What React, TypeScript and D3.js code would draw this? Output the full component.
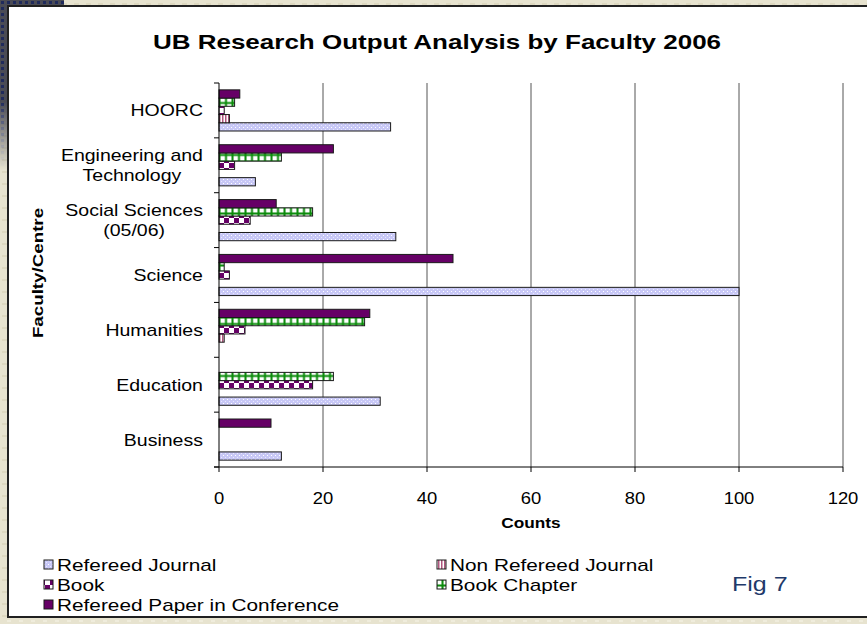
import * as d3 from 'd3';
import React, { useRef, useEffect } from 'react';

// faculties, top to bottom as drawn
const categories = [
  'HOORC',
  'Engineering and Technology',
  'Social Sciences (05/06)',
  'Science',
  'Humanities',
  'Education',
  'Business',
];
const categoryLines = [
  ['HOORC'],
  ['Engineering and', 'Technology'],
  ['Social Sciences', '(05/06)'],
  ['Science'],
  ['Humanities'],
  ['Education'],
  ['Business'],
];

const refereedJournal = [33, 7, 34, 100, 0, 31, 12];
const nonRefereedJournal = [2, 0, 0, 0, 1, 0, 0];
const book = [1, 3, 6, 2, 5, 18, 0];
const bookChapter = [3, 12, 18, 1, 28, 22, 0];
const refereedPaper = [4, 22, 11, 45, 29, 0, 10];

const seriesNames = [
  'Refereed Journal',
  'Non Refereed Journal',
  'Book',
  'Book Chapter',
  'Refereed Paper in Conference',
];
const xTicks = [0, 20, 40, 60, 80, 100, 120];

const FONT = 'Arial, "Liberation Sans", sans-serif';
const SX = 1.22; // the source text is wider than plain Arial

function App() {
  const svgRef = useRef<SVGSVGElement>(null);

  useEffect(() => {
    const W = 867,
      H = 624;
    const margin = { top: 83, left: 219, right: 24, bottom: 157 };
    const width = W - margin.left - margin.right;
    const height = H - margin.top - margin.bottom;

    const svg = d3.select(svgRef.current).attr('width', W).attr('height', H);
    svg.selectAll('*').remove();

    // stretched text helper
    const label = (parent: any, tx: number, ty: number, str: string, size: number, anchor = 'start', bold = false, sx = SX) =>
      parent
        .append('text')
        .attr('transform', 'translate(' + tx + ',' + ty + ') scale(' + sx + ',1)')
        .attr('text-anchor', anchor)
        .attr('font-family', FONT)
        .attr('font-size', size)
        .attr('font-weight', bold ? 'bold' : 'normal')
        .text(str);

    const defs = svg.append('defs');

    // backdrop texture
    const bg = defs
      .append('pattern')
      .attr('id', 'bgTex')
      .attr('width', 12)
      .attr('height', 12)
      .attr('patternUnits', 'userSpaceOnUse');
    bg.append('rect').attr('width', 12).attr('height', 12).attr('fill', '#e7e3cf');
    bg.append('rect').attr('x', 2).attr('y', 3).attr('width', 5).attr('height', 2).attr('fill', '#ddd8c0');
    bg.append('rect').attr('x', 7).attr('y', 8).attr('width', 4).attr('height', 2).attr('fill', '#efecdc');

    const dk = defs
      .append('pattern')
      .attr('id', 'darkTex')
      .attr('width', 6)
      .attr('height', 6)
      .attr('patternUnits', 'userSpaceOnUse');
    dk.append('rect').attr('width', 6).attr('height', 6).attr('fill', '#4a4b55');
    dk.append('rect').attr('x', 1).attr('y', 1).attr('width', 3).attr('height', 3).attr('fill', '#1f2a5c');

    const fade = defs
      .append('linearGradient')
      .attr('id', 'fade')
      .attr('x1', 0)
      .attr('x2', 0)
      .attr('y1', 0)
      .attr('y2', 1);
    fade.append('stop').attr('offset', '0.6').attr('stop-color', '#fff').attr('stop-opacity', 1);
    fade.append('stop').attr('offset', '1').attr('stop-color', '#fff').attr('stop-opacity', 0);
    defs
      .append('mask')
      .attr('id', 'fadeMask')
      .append('rect')
      .attr('width', 10)
      .attr('height', 170)
      .attr('fill', 'url(#fade)');

    // bar fills
    const pj = defs
      .append('pattern')
      .attr('id', 'pJournal')
      .attr('width', 4)
      .attr('height', 4)
      .attr('patternUnits', 'userSpaceOnUse');
    pj.append('rect').attr('width', 4).attr('height', 4).attr('fill', '#c8c8f6');
    pj.append('rect').attr('x', 0).attr('y', 0).attr('width', 1).attr('height', 1).attr('fill', '#ffffff');
    pj.append('rect').attr('x', 2).attr('y', 2).attr('width', 1).attr('height', 1).attr('fill', '#e8e8ff');

    const pn = defs
      .append('pattern')
      .attr('id', 'pNonRef')
      .attr('width', 3)
      .attr('height', 3)
      .attr('patternUnits', 'userSpaceOnUse');
    pn.append('rect').attr('width', 3).attr('height', 3).attr('fill', '#ffffff');
    pn.append('rect').attr('width', 1.5).attr('height', 3).attr('fill', '#b0567e');

    const pb = defs
      .append('pattern')
      .attr('id', 'pBook')
      .attr('width', 10)
      .attr('height', 10)
      .attr('patternUnits', 'userSpaceOnUse');
    pb.append('rect').attr('width', 10).attr('height', 10).attr('fill', '#ffffff');
    pb.append('rect').attr('width', 5).attr('height', 5).attr('fill', '#660066');
    pb.append('rect').attr('x', 5).attr('y', 5).attr('width', 5).attr('height', 5).attr('fill', '#660066');

    const pc = defs
      .append('pattern')
      .attr('id', 'pChapter')
      .attr('width', 6.5)
      .attr('height', 6.5)
      .attr('patternUnits', 'userSpaceOnUse');
    pc.append('rect').attr('width', 6.5).attr('height', 6.5).attr('fill', '#0a8a0a');
    pc.append('rect').attr('x', 1.5).attr('y', 1.5).attr('width', 4.5).attr('height', 4.5).attr('fill', '#ffffff');

    const fills = ['url(#pJournal)', 'url(#pNonRef)', 'url(#pBook)', 'url(#pChapter)', '#660066'];
    const values = [refereedJournal, nonRefereedJournal, book, bookChapter, refereedPaper];

    // page background
    svg.append('rect').attr('width', W).attr('height', H).attr('fill', 'url(#bgTex)');
    svg.append('rect').attr('width', 64).attr('height', 7).attr('fill', 'url(#darkTex)');
    svg
      .append('rect')
      .attr('width', 9)
      .attr('height', 170)
      .attr('fill', 'url(#darkTex)')
      .attr('mask', 'url(#fadeMask)');

    // white chart frame
    svg
      .append('rect')
      .attr('x', 8)
      .attr('y', 6)
      .attr('width', W)
      .attr('height', 611)
      .attr('fill', '#ffffff')
      .attr('stroke', '#202020')
      .attr('stroke-width', 2);

    label(svg, 437, 49, 'UB Research Output Analysis by Faculty 2006', 20, 'middle', true, 1.3);

    const g = svg.append('g').attr('transform', 'translate(' + margin.left + ',' + margin.top + ')');

    const x = d3.scaleLinear().domain([0, 120]).range([0, width]);
    const y = d3.scaleBand().domain(categories).range([0, height]).paddingInner(0.25).paddingOuter(0.125);
    const order = [4, 3, 2, 1, 0]; // top to bottom within a group
    const ySub = d3
      .scaleBand<number>()
      .domain(order)
      .range([0, y.bandwidth()]);
    const step = height / categories.length;

    // gridlines
    g.selectAll('.grid')
      .data(xTicks.slice(1))
      .join('line')
      .attr('x1', (d) => x(d))
      .attr('x2', (d) => x(d))
      .attr('y1', 0)
      .attr('y2', height)
      .attr('stroke', '#555')
      .attr('stroke-width', 1);

    // bars
    categories.forEach((c, i) => {
      values.forEach((vals, s) => {
        const v = vals[i];
        if (!v) return;
        g.append('rect')
          .attr('x', x(0))
          .attr('y', (y(c) as number) + (ySub(s) as number))
          .attr('width', x(v) - x(0))
          .attr('height', ySub.bandwidth())
          .attr('fill', fills[s])
          .attr('stroke', '#1a1a1a')
          .attr('stroke-width', 1);
      });
    });

    // axes
    g.append('line').attr('x1', 0).attr('x2', 0).attr('y1', 0).attr('y2', height).attr('stroke', '#000');
    g.append('line').attr('x1', -5).attr('x2', width).attr('y1', height).attr('y2', height).attr('stroke', '#000');
    g.selectAll('.ytick')
      .data(d3.range(categories.length + 1))
      .join('line')
      .attr('x1', -5)
      .attr('x2', 0)
      .attr('y1', (d) => d * step)
      .attr('y2', (d) => d * step)
      .attr('stroke', '#000');
    g.selectAll('.xtick')
      .data(xTicks)
      .join('line')
      .attr('x1', (d) => x(d))
      .attr('x2', (d) => x(d))
      .attr('y1', height)
      .attr('y2', height + 5)
      .attr('stroke', '#000');
    xTicks.forEach((t) => label(g, x(t), height + 37, String(t), 16, 'middle', false, 1.15));

    // category labels (multi-line blocks centred, right aligned)
    categories.forEach((c, i) => {
      const lines = categoryLines[i];
      const cy = (y(c) as number) + y.bandwidth() / 2;
      const t = g
        .append('text')
        .attr('font-family', FONT)
        .attr('font-size', 16)
        .attr('text-anchor', 'middle');
      const spans = lines.map((ln, k) =>
        t
          .append('tspan')
          .attr('y', cy + 6 + (k - (lines.length - 1) / 2) * 20)
          .text(ln)
      );
      const maxW = d3.max(spans, (sp) => (sp.node() as SVGTSpanElement).getComputedTextLength()) || 0;
      spans.forEach((sp) => sp.attr('x', 0));
      t.attr('transform', 'translate(' + (-16 - (maxW * SX) / 2) + ',0) scale(' + SX + ',1)');
    });

    label(svg, margin.left + width / 2, 528, 'Counts', 15, 'middle', true, 1.15);

    svg
      .append('text')
      .attr('transform', 'translate(43,' + (margin.top + height / 2 - 2) + ') rotate(-90) scale(1.25,1)')
      .attr('text-anchor', 'middle')
      .attr('font-family', FONT)
      .attr('font-weight', 'bold')
      .attr('font-size', 15)
      .text('Faculty/Centre');

    // legend
    const legendPos = [
      [44, 565],
      [437, 565],
      [44, 585],
      [437, 585],
      [44, 605],
    ];
    seriesNames.forEach((name, s) => {
      const [lx, ly] = legendPos[s];
      svg
        .append('rect')
        .attr('x', lx)
        .attr('y', ly - 5)
        .attr('width', 9)
        .attr('height', 9)
        .attr('fill', fills[s])
        .attr('stroke', '#1a1a1a');
      label(svg, lx + 13, ly + 6, name, 16, 'start', false, 1.3);
    });

    svg
      .append('text')
      .attr('transform', 'translate(732,591) scale(1.25,1)')
      .attr('font-family', FONT)
      .attr('font-size', 20)
      .attr('fill', '#1f3a6a')
      .text('Fig 7');
  }, []);

  return (
    <svg ref={svgRef} style={{ position: 'absolute', left: 0, top: 0 }}></svg>
  );
}

export default App;
